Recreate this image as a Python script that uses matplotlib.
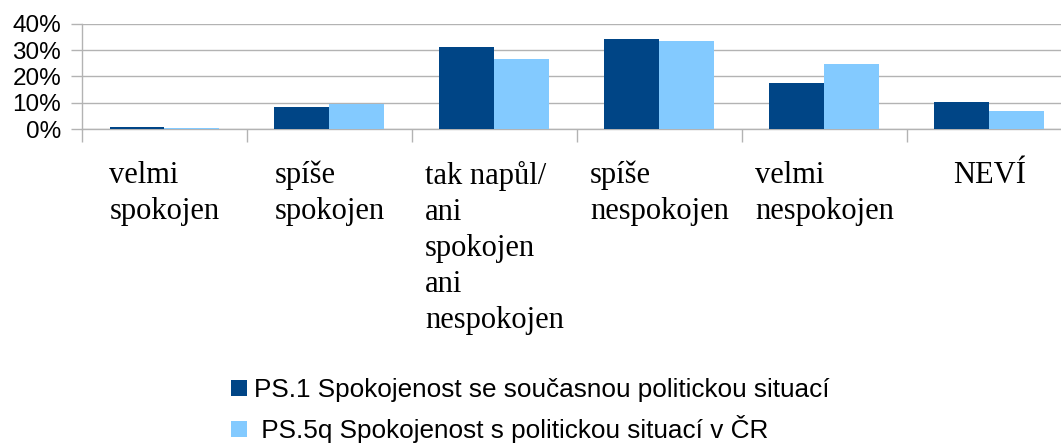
import numpy as np
import matplotlib
matplotlib.use("Agg")
import matplotlib.pyplot as plt
from matplotlib.patches import Patch
from matplotlib.ticker import PercentFormatter

# ==========================
# DATA
# ==========================
categories = [
    "velmi\nspokojen",
    "spíše\nspokojen",
    "tak napůl/\nani\nspokojen\nani\nnespokojen",
    "spíše\nnespokojen",
    "velmi\nnespokojen",
    "NEVÍ",
]
ps1 = [0.8, 8.4, 31.2, 34.3, 17.5, 10.3]
ps5q = [0.4, 9.7, 26.7, 33.5, 24.8, 6.9]
series_names = [
    "PS.1 Spokojenost se současnou politickou situací",
    " PS.5q Spokojenost s politickou situací v ČR",
]
colors = ["#004586", "#83caff"]
grid_color = "#b3b3b3"

# ==========================
# FIGURE
# ==========================
plt.rcParams["font.family"] = ["Liberation Sans", "DejaVu Sans"]
W, H = 1061, 444
fig = plt.figure(figsize=(W / 100, H / 100), dpi=100)
ax = fig.add_axes([82 / W, 1 - 129 / H, (1072 - 82) / W, 105 / H])

x = np.arange(len(categories))
bw = 1 / 3
ax.bar(x - bw / 2, ps1, width=bw, color=colors[0], zorder=3)
ax.bar(x + bw / 2, ps5q, width=bw, color=colors[1], zorder=3)

ax.set_xlim(-0.5, len(categories) - 0.5)
ax.set_ylim(0, 40)
ax.set_yticks([0, 10, 20, 30, 40])
ax.yaxis.set_major_formatter(PercentFormatter(decimals=0))
ax.yaxis.grid(True, color=grid_color, linewidth=1, zorder=0)

for s in ["top", "right"]:
    ax.spines[s].set_visible(False)
for s in ["left", "bottom"]:
    ax.spines[s].set_color(grid_color)
    ax.spines[s].set_linewidth(1)

ax.tick_params(axis="y", length=8, width=1, color=grid_color, pad=7, labelsize=17.5)

# category labels
ax.set_xticks(x)
ax.set_xticklabels(categories, family=["Liberation Serif", "DejaVu Serif"],
                   fontsize=22, linespacing=1.32, va="top")
for lbl in ax.get_xticklabels():
    lbl.set_multialignment("left")
ax.tick_params(axis="x", which="major", length=0, pad=23)
ax.set_xticks(np.arange(-0.5, len(categories)), minor=True)
ax.tick_params(axis="x", which="minor", length=9, width=1, color=grid_color)

handles = [Patch(facecolor=c, edgecolor="none") for c in colors]
fig.legend(handles, series_names, loc="upper left",
           bbox_to_anchor=(231 / W, 1 - 378 / H), frameon=False,
           fontsize=18.8, handlelength=0.6, handleheight=0.6,
           handletextpad=0.28, labelspacing=0.5, borderpad=0, borderaxespad=0)

fig.savefig("out.png", dpi=100)
